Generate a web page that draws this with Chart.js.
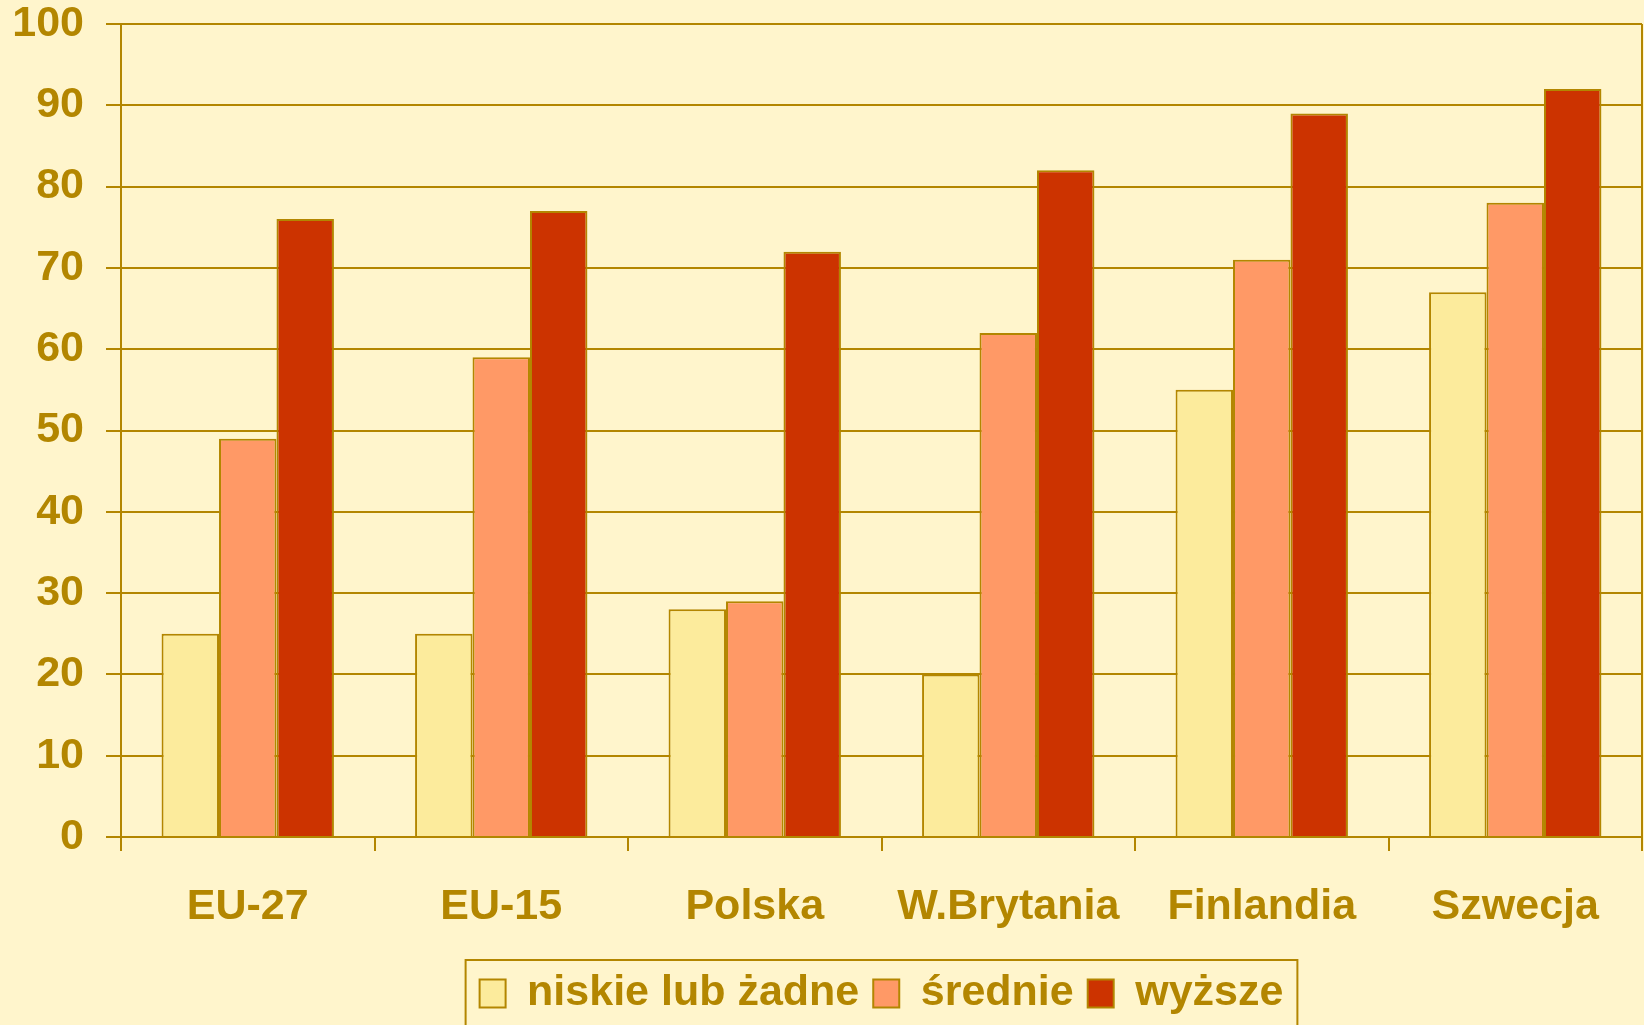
<!DOCTYPE html>
<html>
<head>
<meta charset="utf-8">
<script src="https://cdn.jsdelivr.net/npm/chart.js@4/dist/chart.umd.min.js"></script>
<style>
  html, body { margin: 0; padding: 0; background: #FFF5CC; }
  #wrap { width: 1644px; height: 1025px; }
</style>
</head>
<body>
<div id="wrap"><canvas id="barChart"></canvas></div>
<script>
var categories = ['EU-27', 'EU-15', 'Polska', 'W.Brytania', 'Finlandia', 'Szwecja'];
var niskie = [25, 25, 28, 20, 55, 67];
var srednie = [49, 59, 29, 62, 71, 78];
var wyzsze = [76, 77, 72, 82, 89, 92];

var gold = '#B38600';
var font = { family: '"Liberation Sans", Arial, sans-serif', size: 43, weight: 'bold' };

// legend centred under the plot, box round the legend items, right edge of the plot
var frames = {
    id: 'frames',
    afterLayout: function(chart) {
        var lg = chart.legend, a = chart.chartArea;
        if (lg) {
            lg.left = a.left;
            lg.right = a.right;
        }
    },
    afterDraw: function(chart) {
        var c = chart.ctx, a = chart.chartArea, lg = chart.legend;
        c.save();
        c.strokeStyle = gold;
        c.lineWidth = 2;
        c.beginPath();
        c.moveTo(a.right, a.top);
        c.lineTo(a.right, a.bottom);
        c.stroke();
        if (lg && lg.legendHitBoxes.length) {
            var hb = lg.legendHitBoxes;
            var l = hb[0].left - 14;
            var last = hb[hb.length - 1];
            var r = last.left + last.width + 14;
            var t = hb[0].top - 12;
            c.strokeRect(l, t, r - l, chart.height - t + 10);
        }
        c.restore();
    }
};

var ctx = document.getElementById('barChart').getContext('2d');
new Chart(ctx, {
    type: 'bar',
    data: {
        labels: categories,
        datasets: [{
            label: 'niskie lub żadne',
            data: niskie,
            backgroundColor: '#FCEB9C',
            borderColor: gold,
            borderWidth: 2
        }, {
            label: 'średnie',
            data: srednie,
            backgroundColor: '#FF9966',
            borderColor: gold,
            borderWidth: 2
        }, {
            label: 'wyższe',
            data: wyzsze,
            backgroundColor: '#CC3300',
            borderColor: gold,
            borderWidth: 2
        }]
    },
    options: {
        responsive: true,
        maintainAspectRatio: false,
        animation: false,
        datasets: {
            bar: { categoryPercentage: 0.68, barPercentage: 1.0 }
        },
        layout: {
            padding: { left: 0, right: 2, top: 24, bottom: 0 }
        },
        plugins: {
            tooltip: { enabled: false },
            legend: {
                position: 'bottom',
                labels: {
                    color: gold,
                    font: font,
                    boxWidth: 26,
                    boxHeight: 28,
                    padding: 14
                }
            }
        },
        scales: {
            x: {
                grid: { display: true, drawOnChartArea: false, offset: true, color: gold, lineWidth: 2, tickLength: 14 },
                border: { color: gold, width: 2 },
                ticks: { color: gold, font: font, padding: 30 },
                afterFit: function(axis) { axis.height = 121; }
            },
            y: {
                min: 0,
                max: 100,
                grid: { color: gold, lineWidth: 2, tickLength: 15 },
                border: { color: gold, width: 2 },
                ticks: {
                    color: gold,
                    font: { family: font.family, size: 43, weight: 'bold', lineHeight: 0.01 },
                    stepSize: 10,
                    padding: 22
                },
                afterFit: function(axis) { axis.width = 121; }
            }
        }
    },
    plugins: [frames]
});
</script>
</body>
</html>
